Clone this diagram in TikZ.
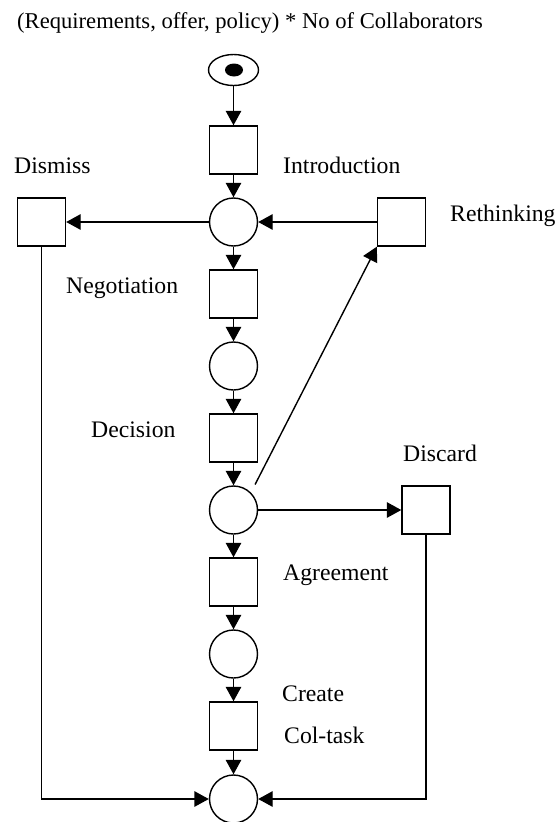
\documentclass[tikz,border=0pt]{standalone}
\usepackage{fontspec}
\setmainfont{Liberation Serif}
\usetikzlibrary{arrows.meta,shapes.geometric}
\begin{document}
\begin{tikzpicture}[x=1pt,y=-1pt,
  trans/.style={draw,line width=1.4pt,minimum width=48pt,minimum height=48pt,inner sep=0pt},
  place/.style={draw,circle,line width=1.4pt,minimum size=48pt,inner sep=0pt},
  arr/.style={line width=1.4pt,-{Triangle[length=14.5pt,width=15.5pt]}},
  lbl/.style={anchor=base west,inner sep=0pt,font=\fontsize{23.7}{28}\selectfont}]
\useasboundingbox (0,0) rectangle (557,822);
% title
\node[lbl,font=\fontsize{22.6}{27}\selectfont] (title) at (17,28) {(Requirements, offer, policy) * No of Collaborators};
% start place with token
\node[draw,ellipse,line width=1.4pt,minimum width=50pt,minimum height=31pt,inner sep=0pt] (start) at (233.5,70) {};
\node[fill=black,ellipse,minimum width=18pt,minimum height=13pt,inner sep=0pt] (token) at (234,70) {};
% main column
\node[trans] (T1) at (233.5,150) {};
\node[place] (P1) at (233.5,222) {};
\node[trans] (T2) at (233.5,294) {};
\node[place] (P2) at (233.5,366) {};
\node[trans] (T3) at (233.5,438) {};
\node[place] (P3) at (233.5,510) {};
\node[trans] (T4) at (233.5,582) {};
\node[place] (P4) at (233.5,654) {};
\node[trans] (T5) at (233.5,726) {};
\node[place] (P5) at (233.5,799) {};
% side transitions
\node[trans] (Dis) at (41.5,222) {};
\node[trans] (Ret) at (401.5,222) {};
\node[trans] (Disc) at (426,510) {};
% labels
\node[lbl] (lIntro) at (283,173) {Introduction};
\node[lbl] (lDismiss) at (14,173) {Dismiss};
\node[lbl] (lReth) at (450,221) {Rethinking};
\node[lbl] (lNeg) at (66,293) {Negotiation};
\node[lbl] (lDec) at (91,437) {Decision};
\node[lbl] (lDisc) at (403,461) {Discard};
\node[lbl] (lAgr) at (283,580) {Agreement};
\node[lbl] (lCreate) at (282,701) {Create};
\node[lbl] (lCol) at (284,743) {Col-task};
% connectors
\draw[arr] (start) -- (T1);
\draw[arr] (T1) -- (P1);
\draw[arr] (P1) -- (Dis);
\draw[arr] (Ret) -- (P1);
\draw[arr] (P1) -- (T2);
\draw[arr] (T2) -- (P2);
\draw[arr] (P2) -- (T3);
\draw[arr] (T3) -- (P3);
\draw[arr,shorten <=9pt] (P3.45) -- (Ret.south west);
\draw[arr] (P3) -- (Disc);
\draw[arr] (P3) -- (T4);
\draw[arr] (T4) -- (P4);
\draw[arr] (P4) -- (T5);
\draw[arr] (T5) -- (P5);
\draw[arr] (Dis.south) |- (P5.west);
\draw[arr] (Disc.south) |- (P5.east);
\end{tikzpicture}
\end{document}
